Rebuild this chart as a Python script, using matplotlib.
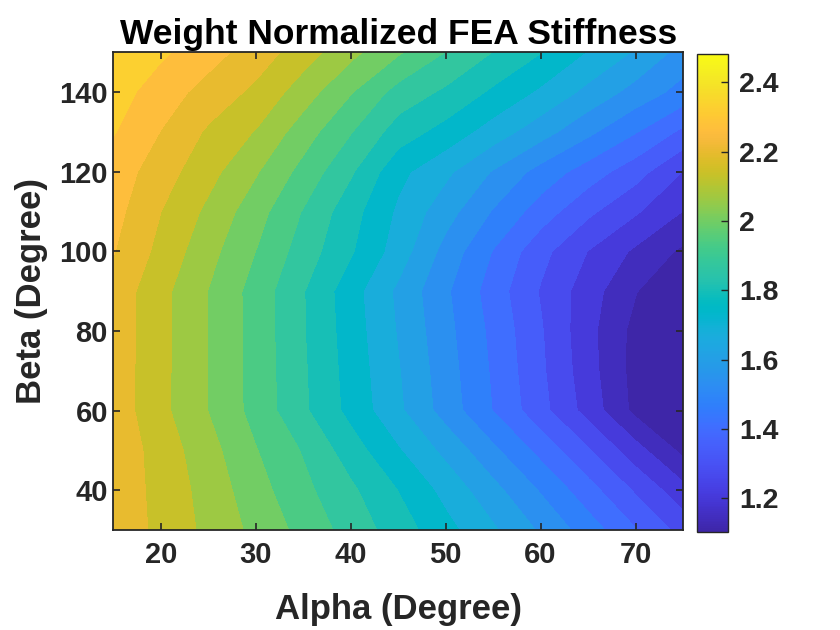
# ======================== IMPORT LIBRARIES ========================
import numpy as np
import matplotlib
matplotlib.use('Agg')
import matplotlib.pyplot as plt
from matplotlib.colors import LinearSegmentedColormap, Normalize
from matplotlib.cm import ScalarMappable

# ======================== DATA ========================
alpha = [15, 20, 25, 30, 35, 40, 45, 50, 55, 60, 65, 70, 75]          # degree
beta = [30, 40, 50, 60, 70, 80, 90, 100, 110, 120, 130, 140, 150]     # degree

# weight normalized stiffness, one row per beta value
stiffness = [
    [2.245, 2.180, 2.115, 2.048, 1.978, 1.907, 1.835, 1.757, 1.679, 1.594, 1.505, 1.409, 1.315],  # 30
    [2.243, 2.176, 2.106, 2.026, 1.951, 1.880, 1.800, 1.714, 1.624, 1.531, 1.431, 1.330, 1.229],  # 40
    [2.245, 2.169, 2.090, 2.003, 1.928, 1.833, 1.741, 1.651, 1.551, 1.450, 1.345, 1.233, 1.123],  # 50
    [2.237, 2.149, 2.064, 1.976, 1.879, 1.781, 1.682, 1.575, 1.469, 1.362, 1.247, 1.123, 1.080],  # 60
    [2.237, 2.150, 2.064, 1.975, 1.876, 1.775, 1.674, 1.567, 1.462, 1.352, 1.234, 1.117, 1.079],  # 70
    [2.238, 2.151, 2.064, 1.974, 1.872, 1.769, 1.664, 1.558, 1.454, 1.346, 1.228, 1.120, 1.079],  # 80
    [2.239, 2.152, 2.064, 1.973, 1.871, 1.763, 1.656, 1.548, 1.440, 1.334, 1.238, 1.145, 1.084],  # 90
    [2.267, 2.178, 2.088, 1.999, 1.903, 1.809, 1.704, 1.580, 1.468, 1.361, 1.272, 1.196, 1.129],  # 100
    [2.286, 2.198, 2.117, 2.027, 1.929, 1.828, 1.724, 1.631, 1.532, 1.440, 1.354, 1.282, 1.206],  # 110
    [2.301, 2.228, 2.154, 2.072, 1.977, 1.876, 1.754, 1.684, 1.598, 1.513, 1.440, 1.367, 1.272],  # 120
    [2.334, 2.262, 2.188, 2.128, 2.031, 1.937, 1.836, 1.777, 1.704, 1.631, 1.552, 1.475, 1.390],  # 130
    [2.360, 2.297, 2.239, 2.183, 2.098, 2.004, 1.909, 1.856, 1.790, 1.724, 1.651, 1.579, 1.513],  # 140
    [2.384, 2.341, 2.290, 2.233, 2.163, 2.084, 2.008, 1.932, 1.866, 1.804, 1.731, 1.662, 1.579],  # 150
]

xticks = [20, 30, 40, 50, 60, 70]
yticks = [40, 60, 80, 100, 120, 140]
cticks = [1.2, 1.4, 1.6, 1.8, 2.0, 2.2, 2.4]
ctick_labels = ['1.2', '1.4', '1.6', '1.8', '2', '2.2', '2.4']
clim = (1.104, 2.482)

# ======================== PARULA COLORMAP ========================
parula_rows = [
    [0.2422, 0.1504, 0.6603], [0.2504, 0.1650, 0.7076], [0.2578, 0.1818, 0.7511], [0.2647, 0.1978, 0.7952],
    [0.2706, 0.2147, 0.8364], [0.2751, 0.2342, 0.8710], [0.2783, 0.2559, 0.8991], [0.2803, 0.2782, 0.9221],
    [0.2813, 0.3006, 0.9414], [0.2810, 0.3228, 0.9579], [0.2795, 0.3447, 0.9717], [0.2760, 0.3667, 0.9829],
    [0.2699, 0.3892, 0.9906], [0.2602, 0.4123, 0.9952], [0.2440, 0.4358, 0.9988], [0.2206, 0.4603, 0.9973],
    [0.1963, 0.4847, 0.9892], [0.1834, 0.5074, 0.9798], [0.1786, 0.5289, 0.9682], [0.1764, 0.5499, 0.9520],
    [0.1687, 0.5703, 0.9359], [0.1540, 0.5902, 0.9218], [0.1460, 0.6091, 0.9079], [0.1380, 0.6276, 0.8973],
    [0.1248, 0.6459, 0.8883], [0.1113, 0.6635, 0.8763], [0.0952, 0.6798, 0.8598], [0.0689, 0.6948, 0.8394],
    [0.0297, 0.7082, 0.8163], [0.0036, 0.7203, 0.7917], [0.0067, 0.7312, 0.7660], [0.0433, 0.7411, 0.7394],
    [0.0964, 0.7500, 0.7120], [0.1408, 0.7584, 0.6842], [0.1717, 0.7670, 0.6554], [0.1938, 0.7758, 0.6251],
    [0.2161, 0.7843, 0.5923], [0.2470, 0.7918, 0.5567], [0.2906, 0.7973, 0.5188], [0.3406, 0.8008, 0.4789],
    [0.3909, 0.8029, 0.4354], [0.4456, 0.8024, 0.3909], [0.5044, 0.7993, 0.3480], [0.5616, 0.7942, 0.3045],
    [0.6174, 0.7876, 0.2612], [0.6720, 0.7793, 0.2227], [0.7242, 0.7698, 0.1910], [0.7738, 0.7598, 0.1646],
    [0.8203, 0.7498, 0.1535], [0.8634, 0.7406, 0.1596], [0.9035, 0.7330, 0.1774], [0.9393, 0.7288, 0.2100],
    [0.9728, 0.7298, 0.2394], [0.9956, 0.7434, 0.2371], [0.9970, 0.7659, 0.2199], [0.9952, 0.7893, 0.2028],
    [0.9892, 0.8136, 0.1885], [0.9786, 0.8386, 0.1766], [0.9676, 0.8639, 0.1643], [0.9610, 0.8890, 0.1537],
    [0.9597, 0.9135, 0.1423], [0.9628, 0.9373, 0.1265], [0.9691, 0.9606, 0.1064], [0.9769, 0.9839, 0.0805],
]
parula = LinearSegmentedColormap.from_list('parula', parula_rows, N=256)
norm = Normalize(vmin=clim[0], vmax=clim[1])

# contour levels, each band is filled with the colour of its lower level (like matlab)
levels = 1.077 + 0.066 * np.arange(22)
band_colors = [parula(norm(max(v, clim[0]))) for v in levels[:-1]]

# ======================== PLOT ========================
plt.rcParams['font.family'] = ['Liberation Sans', 'DejaVu Sans']
plt.rcParams['font.weight'] = 'bold'
dark = '#262626'

fig = plt.figure(figsize=(8.4, 6.3), dpi=100)
ax = fig.add_axes([0.1351, 0.1587, 0.678, 0.7587])
cax = fig.add_axes([0.8301, 0.1560, 0.0369, 0.7583])

A, B = np.meshgrid(alpha, beta)
cs = ax.contourf(A, B, np.array(stiffness), levels=levels, colors=band_colors)
cs.set_edgecolor('face')

ax.set_xlim(15, 75)
ax.set_ylim(30, 150)
ax.set_xticks(xticks)
ax.set_yticks(yticks)
ax.tick_params(direction='in', length=5, width=1.2, top=True, right=True,
               labelsize=21, colors=dark)
ax.tick_params(axis='x', pad=8)
ax.tick_params(axis='y', pad=4)
for lab in ax.get_xticklabels() + ax.get_yticklabels():
    lab.set_fontweight('bold')
for sp in ax.spines.values():
    sp.set_linewidth(1.3)
    sp.set_color(dark)

ax.set_xlabel('Alpha (Degree)', fontsize=25, fontweight='bold', color=dark, labelpad=17)
ax.set_ylabel('Beta (Degree)', fontsize=25, fontweight='bold', color=dark, labelpad=8)
ax.set_title('Weight Normalized FEA Stiffness', fontsize=25.5, fontweight='bold', color='black', pad=6)

cb = fig.colorbar(ScalarMappable(norm=norm, cmap=parula), cax=cax)
cb.set_ticks(cticks)
cb.set_ticklabels(ctick_labels)
cb.ax.tick_params(direction='in', length=5, width=1.0, labelsize=20.5, colors=dark, pad=8)
for lab in cb.ax.get_yticklabels():
    lab.set_fontweight('bold')
cb.outline.set_linewidth(1.0)
cb.outline.set_edgecolor(dark)

fig.savefig('out.png', dpi=100)
